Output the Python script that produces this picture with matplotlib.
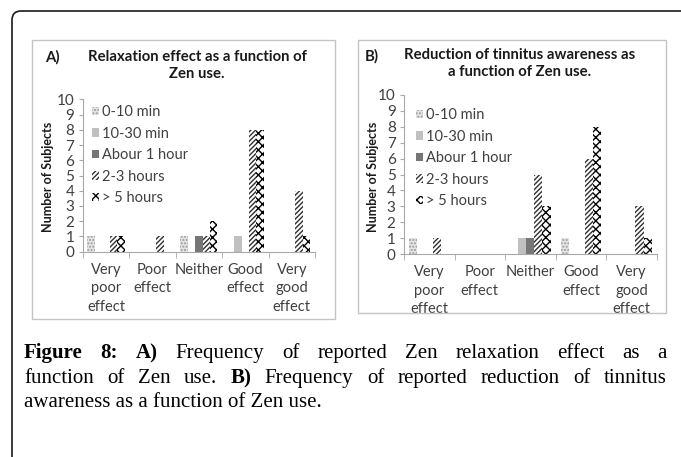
import numpy as np
import matplotlib.pyplot as plt
from matplotlib.patches import FancyBboxPatch, Rectangle
from matplotlib.transforms import IdentityTransform

# categories and series
categories = ['Very\npoor\neffect', 'Poor\neffect', 'Neither', 'Good\neffect', 'Very\ngood\neffect']
series_names = ['0-10 min', '10-30 min', 'Abour 1 hour', '2-3 hours', '> 5 hours']

# A) relaxation effect
relax_0_10 = [1, 0, 1, 0, 0]
relax_10_30 = [0, 0, 0, 1, 0]
relax_1h = [0, 0, 1, 0, 0]
relax_2_3h = [1, 1, 1, 8, 4]
relax_5h = [1, 0, 2, 8, 1]

# B) reduction of tinnitus awareness
tinn_0_10 = [1, 0, 0, 1, 0]
tinn_10_30 = [0, 0, 1, 0, 0]
tinn_1h = [0, 0, 1, 0, 0]
tinn_2_3h = [1, 0, 5, 6, 3]
tinn_5h = [0, 0, 3, 8, 1]

title_a = 'Relaxation effect as a function of\nZen use.'
title_b = 'Reduction of tinnitus awareness as\na function of Zen use.'

caption_lines = ['Figure 8: A) Frequency of reported Zen relaxation effect as a',
                 'function of Zen use. B) Frequency of reported reduction of tinnitus',
                 'awareness as a function of Zen use.']
bold_words = {'Figure', '8:', 'A)', 'B)'}

W, H = 681, 457
plt.rcParams['hatch.linewidth'] = 1.0
SANS = 'Lato'
SERIF = 'Liberation Serif'

styles = [
    dict(facecolor='#e4e4e4', edgecolor='#9c9c9c', hatch='.....'),
    dict(facecolor='#c0c0c0', edgecolor='#c0c0c0'),
    dict(facecolor='#767676', edgecolor='#767676'),
    dict(facecolor='white', edgecolor='#303030', hatch='///////'),
    dict(facecolor='white', edgecolor='black', hatch='xxxx'),
]


def fx(x):
    return x / W


def fy(y):
    return 1 - y / H


fig = plt.figure(figsize=(W / 100, H / 100), dpi=100)
fig.patch.set_facecolor('white')


def draw_panel(rect, series, legend_xy):
    ax = fig.add_axes(rect)
    x = np.arange(len(categories))
    w = 0.16
    for i, vals in enumerate(series):
        ax.bar(x + (i - 2) * w, vals, w, linewidth=0, label=series_names[i], **styles[i])
    ax.set_xlim(-0.5, 4.5)
    ax.set_ylim(0, 10)
    ax.set_yticks(range(0, 11))
    for s in ['top', 'right']:
        ax.spines[s].set_visible(False)
    for s in ['left', 'bottom']:
        ax.spines[s].set_color('#a8a8a8')
        ax.spines[s].set_linewidth(0.8)
    ax.tick_params(axis='y', length=3, color='#a8a8a8', labelcolor='#404040',
                   labelsize=11, pad=3)
    for t in ax.get_yticklabels():
        t.set_fontfamily(SANS)
    ax.set_xticks(x)
    ax.set_xticklabels(categories, fontsize=10.5, color='#404040', family=SANS,
                       linespacing=1.4)
    ax.tick_params(axis='x', which='major', length=0, pad=8)
    ax.set_xticks(np.arange(-0.5, 5, 1), minor=True)
    ax.tick_params(axis='x', which='minor', length=4, color='#a8a8a8')
    ax.legend(loc='upper left', bbox_to_anchor=(fx(legend_xy[0]), fy(legend_xy[1])),
              bbox_transform=fig.transFigure, frameon=False,
              prop={'family': SANS, 'size': 10.5}, labelcolor='#404040',
              handlelength=0.5, handleheight=0.5, handletextpad=0.2,
              labelspacing=0.52, borderpad=0, borderaxespad=0)
    return ax


ax_a = draw_panel([fx(82.7), fy(251.7), (315 - 82.7) / W, (251.7 - 99.3) / H],
                  [relax_0_10, relax_10_30, relax_1h, relax_2_3h, relax_5h], (92, 105))
ax_b = draw_panel([fx(404), fy(254), (656.7 - 404) / W, (254 - 95) / H],
                  [tinn_0_10, tinn_10_30, tinn_1h, tinn_2_3h, tinn_5h], (416, 108))

# panel boxes
fig.add_artist(Rectangle((fx(32), fy(319)), (335 - 32) / W, (319 - 40) / H,
                         transform=fig.transFigure, fill=False, edgecolor='#c4c4c4', lw=1))
fig.add_artist(Rectangle((fx(358), fy(313)), (666 - 358) / W, (313 - 40) / H,
                         transform=fig.transFigure, fill=False, edgecolor='#c4c4c4', lw=1))

# outer rounded frame (only top/left visible)
fig.add_artist(FancyBboxPatch((12, -30), 720, H - 11 + 30, boxstyle='round,pad=0,rounding_size=9',
                              transform=IdentityTransform(), fill=False,
                              edgecolor='#1a1a1a', lw=1.2))

# titles
fig.text(fx(45), fy(57), 'A)', fontsize=10.7, fontweight='bold', family=SANS,
         va='center', ha='left', color='#1a1a1a')
fig.text(fx(197), fy(65.5), title_a, fontsize=10.7, fontweight='bold', family=SANS,
         va='center', ha='center', linespacing=1.25, color='#1a1a1a')
fig.text(fx(365), fy(56), 'B)', fontsize=10.7, fontweight='bold', family=SANS,
         va='center', ha='left', color='#1a1a1a')
fig.text(fx(520), fy(63.5), title_b, fontsize=10.7, fontweight='bold', family=SANS,
         va='center', ha='center', linespacing=1.25, color='#1a1a1a')

# y labels
fig.text(fx(48), fy(177), 'Number of Subjects', rotation=90, fontsize=9,
         fontweight='bold', family=SANS, ha='center', va='center', color='#1a1a1a')
fig.text(fx(373), fy(177), 'Number of Subjects', rotation=90, fontsize=9,
         fontweight='bold', family=SANS, ha='center', va='center', color='#1a1a1a')

# caption, first two lines justified
fig.canvas.draw()
renderer = fig.canvas.get_renderer()
baselines = [358, 383, 407]
left, right = 24, 667
for li, line in enumerate(caption_lines):
    if li == 2:
        fig.text(fx(left), fy(baselines[li]), line, fontsize=15, family=SERIF,
                 va='baseline', ha='left', color='black')
        continue
    words = line.split(' ')
    texts = []
    for wd in words:
        t = fig.text(0, fy(baselines[li]), wd, fontsize=15, family=SERIF,
                     fontweight='bold' if wd in bold_words else 'normal',
                     va='baseline', ha='left', color='black')
        texts.append(t)
    widths = [t.get_window_extent(renderer).width for t in texts]
    gap = (right - left - sum(widths)) / (len(words) - 1)
    pos = left
    for t, wd in zip(texts, widths):
        t.set_x(fx(pos))
        pos += wd + gap

fig.savefig('out.png', dpi=100, facecolor='white')
